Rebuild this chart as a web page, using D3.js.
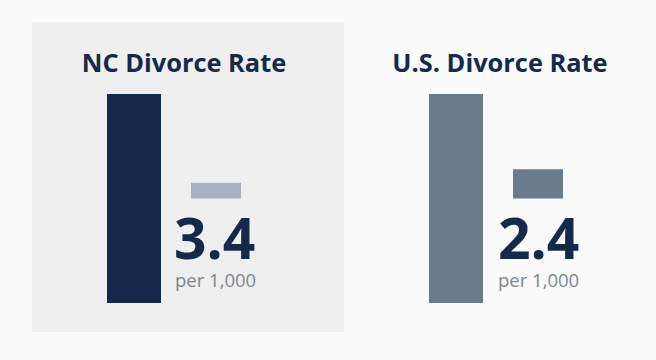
<!DOCTYPE html>
<html>
<head>
<meta charset="utf-8">
<script src="https://cdn.jsdelivr.net/npm/d3@7"></script>
<style>
  html, body { margin: 0; padding: 0; background: #fafafb; }
  svg { display: block; }
</style>
</head>
<body>
<svg id="chart" width="656" height="360"></svg>
<script>
// ---- data ----
const categories = ["NC", "U.S."];
const titles = ["NC Divorce Rate", "U.S. Divorce Rate"];
const rates = [3.4, 2.4];
const rateLabels = ["3.4", "2.4"];
const unitLabels = ["per 1,000", "per 1,000"];
const tallBarValues = [10, 10];
const floatLow = [5.0, 5.0];
const floatHigh = [5.75, 6.4];

// ---- styles ----
const tallColors = ["#142a4c", "#6b7b8e"];
const floatColors = ["#a4b2c1", "#6b7b8e"];
const panelFill = ["#efefef", "none"];

const svg = d3.select("#chart");
const W = 656, H = 360;
svg.append("rect").attr("width", W).attr("height", H).attr("fill", "#fafafb");

const panelX = d3.scaleBand().domain(categories).range([32, 666]).paddingInner(0.031).paddingOuter(0);
const inner = d3.scaleOrdinal().domain(["tall", "float"]).range([75, 159]);
const innerW = { tall: 54, float: 50 };
const y = d3.scaleLinear().domain([0, 10]).range([303, 94]);

const panels = svg.selectAll("g.panel")
  .data(categories.map((c, i) => ({ c, i })))
  .join("g")
  .attr("class", "panel")
  .attr("transform", d => `translate(${panelX(d.c)},0)`);

panels.append("rect")
  .attr("x", 0).attr("y", 22)
  .attr("width", panelX.bandwidth()).attr("height", 310)
  .attr("fill", d => panelFill[d.i]);

panels.append("text")
  .attr("x", d => d.i === 0 ? 152 : 146)
  .attr("y", 72)
  .attr("text-anchor", "middle")
  .attr("font-family", "'Open Sans', sans-serif")
  .attr("font-weight", 700)
  .attr("font-size", 25.4)
  .attr("fill", "#15294b")
  .text(d => titles[d.i]);

panels.append("rect")
  .attr("x", inner("tall"))
  .attr("width", innerW.tall)
  .attr("y", d => y(tallBarValues[d.i]))
  .attr("height", d => y(0) - y(tallBarValues[d.i]))
  .attr("fill", d => tallColors[d.i]);

panels.append("rect")
  .attr("x", inner("float"))
  .attr("width", innerW.float)
  .attr("y", d => y(floatHigh[d.i]))
  .attr("height", d => y(floatLow[d.i]) - y(floatHigh[d.i]))
  .attr("fill", d => floatColors[d.i]);

panels.append("text")
  .attr("x", d => d.i === 0 ? 142 : 144)
  .attr("y", 259)
  .attr("font-family", "'Open Sans', sans-serif")
  .attr("font-weight", 700)
  .attr("font-size", 57)
  .attr("fill", "#15294b")
  .text(d => rateLabels[d.i]);

panels.append("text")
  .attr("x", d => d.i === 0 ? 143 : 144)
  .attr("y", 287)
  .attr("font-family", "'Open Sans', sans-serif")
  .attr("font-weight", 400)
  .attr("font-size", 18.5)
  .attr("fill", "#7b8594")
  .text(d => unitLabels[d.i]);
</script>
</body>
</html>
